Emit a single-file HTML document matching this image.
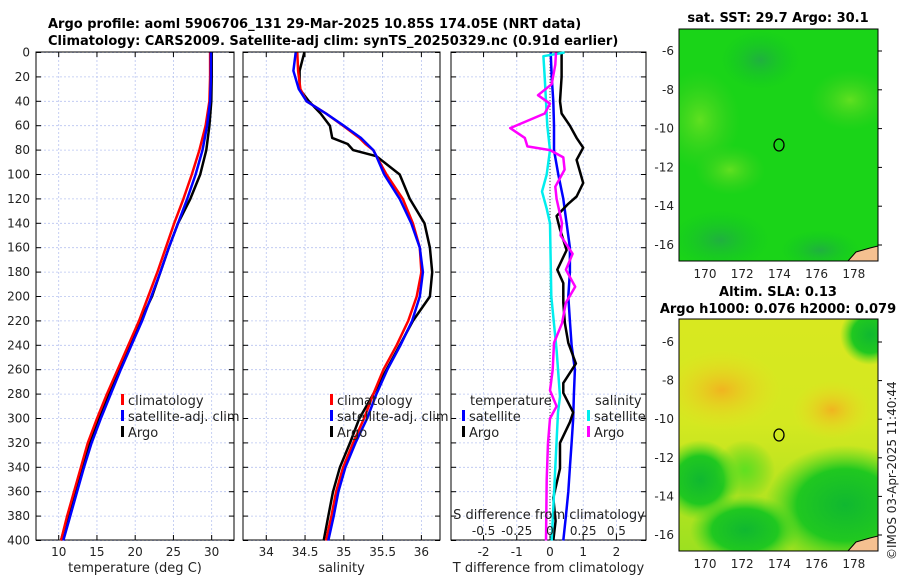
<!DOCTYPE html>
<html><head><meta charset="utf-8"><style>
body{margin:0;background:#fff;}
svg text{font-family:"DejaVu Sans","Liberation Sans",sans-serif;fill:#222;}
.t{font-weight:bold;font-size:13px;fill:#000}
.tk{font-size:12px}
</style></head><body>
<svg id="c" width="900" height="580" xmlns="http://www.w3.org/2000/svg">
<defs>
<radialGradient id="o1"><stop offset="0" stop-color="#f0b420"/><stop offset="1" stop-color="#e8e020" stop-opacity="0"/></radialGradient>
<radialGradient id="g1"><stop offset="0" stop-color="#10b830"/><stop offset="0.6" stop-color="#20c820"/><stop offset="1" stop-color="#50d820" stop-opacity="0"/></radialGradient>
<radialGradient id="l1"><stop offset="0" stop-color="#60e020"/><stop offset="1" stop-color="#40d020" stop-opacity="0"/></radialGradient>
<radialGradient id="d1"><stop offset="0" stop-color="#20b040"/><stop offset="1" stop-color="#10c820" stop-opacity="0"/></radialGradient>
<linearGradient id="sg" x1="0" y1="0" x2="0" y2="1"><stop offset="0" stop-color="#d8e820"/><stop offset="0.45" stop-color="#d4e820"/><stop offset="1" stop-color="#9ce020"/></linearGradient>
<clipPath id="m1"><rect x="679" y="29" width="199" height="232"/></clipPath>
<clipPath id="m2"><rect x="679" y="319" width="199" height="232"/></clipPath>
</defs>
<text class="t" x="48" y="28">Argo profile: aoml 5906706_131 29-Mar-2025 10.85S 174.05E (NRT data)</text>
<text class="t" x="48" y="45">Climatology: CARS2009. Satellite-adj clim: synTS_20250329.nc (0.91d earlier)</text>
<g id="g"></g>
<g clip-path="url(#m1)">
<rect x="679" y="29" width="199" height="232" fill="#1ad418"/>
<ellipse cx="700" cy="120" rx="40" ry="50" fill="url(#l1)"/>
<ellipse cx="730" cy="170" rx="35" ry="25" fill="url(#l1)"/>
<ellipse cx="850" cy="100" rx="40" ry="30" fill="url(#l1)"/>
<ellipse cx="760" cy="60" rx="40" ry="30" fill="url(#d1)"/>
<ellipse cx="720" cy="240" rx="50" ry="30" fill="url(#d1)"/>
<ellipse cx="820" cy="250" rx="40" ry="20" fill="url(#d1)"/>
<path d="M848 261 L856 252 L870 248 L878 246 L878 261Z" fill="#f5c090" stroke="#000"/>
<ellipse cx="779" cy="145" rx="5" ry="6" fill="none" stroke="#000" stroke-width="1.3"/>
</g>
<rect x="679" y="29" width="199" height="232" fill="none" stroke="#000"/>
<text class="t" x="778" y="22" text-anchor="middle">sat. SST: 29.7 Argo: 30.1</text>
<g clip-path="url(#m2)">
<rect x="679" y="319" width="199" height="232" fill="url(#sg)"/>
<ellipse cx="722" cy="390" rx="60" ry="40" fill="url(#o1)"/>
<ellipse cx="832" cy="410" rx="40" ry="30" fill="url(#o1)"/>
<ellipse cx="870" cy="335" rx="30" ry="30" fill="url(#g1)"/>
<ellipse cx="845" cy="505" rx="80" ry="60" fill="url(#g1)"/>
<ellipse cx="700" cy="480" rx="40" ry="40" fill="url(#g1)"/>
<ellipse cx="745" cy="530" rx="55" ry="35" fill="url(#g1)"/>
<ellipse cx="745" cy="470" rx="30" ry="30" fill="url(#l1)"/>
<path d="M848 551 L856 542 L870 538 L878 536 L878 551Z" fill="#f5c090" stroke="#000"/>
<ellipse cx="779" cy="435" rx="5" ry="6" fill="none" stroke="#000" stroke-width="1.3"/>
</g>
<rect x="679" y="319" width="199" height="232" fill="none" stroke="#000"/>
<text class="t" x="778" y="296" text-anchor="middle">Altim. SLA: 0.13</text>
<text class="t" x="778" y="313" text-anchor="middle">Argo h1000: 0.076 h2000: 0.079</text>
<text class="tk" transform="translate(896,560) rotate(-90)">©IMOS 03-Apr-2025 11:40:44</text>
</svg>
<script>
const depths=[0,20,40,60,80,100,120,140,160,180,200,220,240,260,280,300,320,340,360,380,400];
const tempClim=[29.8,29.8,29.7,29.2,28.4,27.4,26.3,25.1,24.0,22.9,21.7,20.5,19.1,17.7,16.3,15.0,13.8,12.9,12.0,11.1,10.3];
const tempSat=[29.9,29.9,29.8,29.4,28.8,27.9,26.8,25.6,24.4,23.3,22.1,20.9,19.5,18.1,16.8,15.5,14.3,13.3,12.4,11.5,10.6];
const tempArgo=[30.0,30.0,29.95,29.7,29.3,28.5,27.2,25.6,24.4,23.3,22.2,20.7,19.4,17.9,16.5,15.2,14.0,13.0,12.1,11.2,10.3];
const salDepths=[0,15,30,40,50,60,70,75,80,85,100,120,140,160,180,200,220,240,260,280,300,320,340,360,380,400];
const salClim=[34.40,34.41,34.44,34.52,34.77,34.99,35.2,35.28,35.38,35.42,35.55,35.76,35.89,35.98,36.0,35.94,35.83,35.68,35.51,35.38,35.26,35.12,34.99,34.9,34.84,34.77];
const salSat=[34.38,34.35,34.42,34.52,34.77,35.0,35.22,35.3,35.38,35.42,35.52,35.72,35.87,35.98,36.02,35.98,35.88,35.73,35.56,35.42,35.3,35.15,35.02,34.93,34.87,34.80];
const salArgo=[34.49,34.43,34.43,34.55,34.7,34.82,34.85,35.05,35.12,35.42,35.72,35.85,36.04,36.11,36.14,36.11,35.89,35.72,35.55,35.38,35.2,35.08,34.95,34.86,34.8,34.74];
const dTsat=[0.02,0.05,0.1,0.12,0.12,0.25,0.4,0.5,0.6,0.6,0.55,0.6,0.65,0.75,0.72,0.7,0.65,0.6,0.55,0.48,0.4];
const dTargoDepths=[0,20,40,50,60,70,78,88,107,118,124,134,145,162,178,189,205,222,238,255,271,279,295,303,320,341,365,384,400];
const dTargo=[0.35,0.35,0.3,0.35,0.6,0.8,1.0,0.8,1.0,0.8,0.55,0.2,0.3,0.5,0.22,0.4,0.4,0.45,0.55,0.78,0.4,0.4,0.7,0.6,0.3,0.3,0.1,0.17,0.1];
const dSsatDepths=[0,3,20,40,60,80,100,114,128,140,200,244,282,295,340,400];
const dSsat=[0.11,-0.05,-0.04,-0.03,-0.02,0,-0.025,-0.06,-0.025,0,0.01,0.05,0.075,0.06,0.04,0.013];
const dSargoDepths=[0,10,26,35,42,50,62,70,77,80,86,96,110,120,140,150,165,178,192,205,222,238,260,277,290,300,320,350,400];
const dSargo=[0.045,0.04,0.013,-0.09,0,-0.04,-0.3,-0.19,-0.17,0,0.1,0.11,0.04,0.05,0.09,0.08,0.17,0.12,0.19,0.12,0.09,0.03,0.02,0.0,0.05,0,-0.015,-0.025,-0.03];
const tempTicks=[10,15,20,25,30];
const salTicks=[34,34.5,35,35.5,36];
const dTTicks=[-2,-1,0,1,2];
const dSTicks=[-0.5,-0.25,0,0.25,0.5];
const depthTicks=[0,20,40,60,80,100,120,140,160,180,200,220,240,260,280,300,320,340,360,380,400];

const NS='http://www.w3.org/2000/svg';
const G=document.getElementById('g');
function el(t,a,p){const e=document.createElementNS(NS,t);for(const k in a)e.setAttribute(k,a[k]);(p||G).appendChild(e);return e;}
const yD=d=>52.5+d*1.22;
const P=[{x0:36,x1:234,v0:7.03,v1:32.92},{x0:243,x1:440,v0:33.70,v1:36.24},{x0:451,x1:646,v0:-2.98,v1:2.89}];
function sx(p,v){return p.x0+(v-p.v0)/(p.v1-p.v0)*(p.x1-p.x0);}
const xS=v=>550+v*132.8;
function panel(i,ticks,lab,name){
 const p=P[i];
 const g=el('g',{});
 
 
 depthTicks.forEach(d=>{el('line',{x1:p.x0,x2:p.x1,y1:yD(d),y2:yD(d),stroke:'#b8c4f0','stroke-dasharray':'2,2','stroke-width':0.8},g);
  el('line',{x1:p.x0,x2:p.x0+5,y1:yD(d),y2:yD(d),stroke:'#000'},g);el('line',{x1:p.x1-5,x2:p.x1,y1:yD(d),y2:yD(d),stroke:'#000'},g);});
 ticks.forEach(v=>{const x=sx(p,v);el('line',{x1:x,x2:x,y1:52,y2:540,stroke:'#b8c4f0','stroke-dasharray':'2,2','stroke-width':0.8},g);
  el('line',{x1:x,x2:x,y1:535,y2:540,stroke:'#000'},g);el('line',{x1:x,x2:x,y1:52,y2:57,stroke:'#000'},g);
  const t=el('text',{x:x,y:556,'text-anchor':'middle',class:'tk'},g);t.textContent=v;});
 el('rect',{x:p.x0,y:52,width:p.x1-p.x0,height:488,fill:'none',stroke:'#000'},g);
 const t=el('text',{x:(p.x0+p.x1)/2,y:572,'text-anchor':'middle',style:'font-size:13px'},g);t.textContent=lab;
 return g;
}
function line(g,p,vals,ds,col,w,name,fx){
 const pts=vals.map((v,k)=>(fx?fx(v):sx(p,v)).toFixed(1)+','+yD(ds[k]).toFixed(1)).join(' ');
 const e=el('polyline',{points:pts,fill:'none',stroke:col,'stroke-width':w,'stroke-linejoin':'round'},g);
 
 
}
function legend(g,x,y,items){
 items.forEach((it,k)=>{el('rect',{x:x,y:y+k*16-11,width:3,height:11,fill:it[0]},g);
 const t=el('text',{x:x+7,y:y+k*16,style:'font-size:13px'},g);t.textContent=it[1];});
}
const g1=panel(0,tempTicks,'temperature (deg C)','temperature-panel');
depthTicks.forEach(d=>{const t=el('text',{x:30,y:yD(d)+4,'text-anchor':'end',class:'tk'});t.textContent=d;});
line(g1,P[0],tempArgo,depths,'#000',2.5,'temp-argo-line');
line(g1,P[0],tempClim,depths,'#f00',2.5,'temp-climatology-line');
line(g1,P[0],tempSat,depths,'#00f',2.5,'temp-satellite-line');
legend(g1,121,405,[['#f00','climatology'],['#00f','satellite-adj. clim'],['#000','Argo']]);
const g2=panel(1,salTicks,'salinity','salinity-panel');
line(g2,P[1],salArgo,salDepths,'#000',2.5,'sal-argo-line');
line(g2,P[1],salClim,salDepths,'#f00',2.5,'sal-climatology-line');
line(g2,P[1],salSat,salDepths,'#00f',2.5,'sal-satellite-line');
legend(g2,330,405,[['#f00','climatology'],['#00f','satellite-adj. clim'],['#000','Argo']]);
const g3=panel(2,dTTicks,'T difference from climatology','difference-panel');
el('line',{x1:550,x2:550,y1:52,y2:540,stroke:'#444','stroke-dasharray':'1,2'},g3);
line(g3,P[2],dTsat,depths,'#00f',2.5,'dT-satellite-line');
line(g3,P[2],dTargo,dTargoDepths,'#000',2.5,'dT-argo-line');
line(g3,P[2],dSsat,dSsatDepths,'#0ee',2.5,'dS-satellite-line',xS);
line(g3,P[2],dSargo,dSargoDepths,'#f0f',2.5,'dS-argo-line',xS);
let t=el('text',{x:470,y:405,style:'font-size:13px'},g3);t.textContent='temperature';
t=el('text',{x:595,y:405,style:'font-size:13px'},g3);t.textContent='salinity';
legend(g3,462,421,[['#00f','satellite'],['#000','Argo']]);
legend(g3,587,421,[['#0ee','satellite'],['#f0f','Argo']]);
t=el('text',{x:549,y:519,'text-anchor':'middle',style:'font-size:13px'},g3);t.textContent='S difference from climatology';
dSTicks.forEach(v=>{const q=el('text',{x:xS(v),y:535,'text-anchor':'middle',class:'tk'},g3);q.textContent=v;});
const mx=[170,172,174,176,178], my=[-6,-8,-10,-12,-14,-16];
[[29,261,51,245],[319,551,342,535]].forEach(m=>{
 mx.forEach(v=>{const x=705+(v-170)*18.6;el('line',{x1:x,x2:x,y1:m[1]-4,y2:m[1],stroke:'#000'});const q=el('text',{x:x,y:m[1]+17,'text-anchor':'middle',class:'tk'});q.textContent=v;});
 my.forEach(v=>{const y=m[2]+(-6-v)*(m[3]-m[2])/10;el('line',{x1:878,x2:882,y1:y,y2:y,stroke:'#000'});const q=el('text',{x:674,y:y+4,'text-anchor':'end',class:'tk'});q.textContent=v;});
});
</script>
</body></html>
